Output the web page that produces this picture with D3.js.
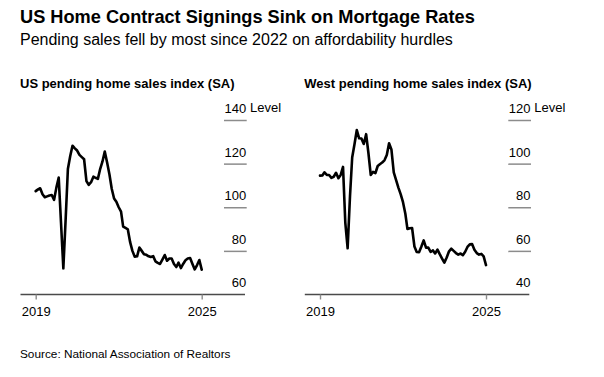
<!DOCTYPE html>
<html>
<head>
<meta charset="utf-8">
<script src="https://cdn.jsdelivr.net/npm/d3@7"></script>
<style>
  html, body { margin: 0; padding: 0; background: #fff; }
  svg { display: block; font-family: "Liberation Sans", Arial, Helvetica, sans-serif; }
</style>
</head>
<body>
<svg id="chart" width="604" height="377"></svg>
<script>
// ---- Data (monthly, Jan 2019 – Jan 2025) ----
const startMonth = "2019-01";
const usValues = [
  107.4, 108.2, 108.7, 106.0, 104.6, 105.0, 105.4, 105.6, 103.4, 109.0,
  113.6, 93.0, 72.0, 94.9, 117.5, 123.5, 128.2, 127.0, 126.0, 124.0,
  123.0, 122.0, 112.0, 110.3, 111.5, 114.0, 113.5, 113.0, 117.5, 121.0,
  125.5, 120.5, 115.0, 108.5, 104.0, 102.5, 100.0, 98.0, 91.1, 90.5,
  89.9, 84.0, 80.0, 77.3, 77.5, 81.5, 80.0, 78.5, 78.2, 77.5,
  77.2, 77.6, 75.2, 74.5, 74.0, 76.0, 78.1, 75.5, 76.5, 76.5,
  74.0, 72.6, 74.6, 72.1, 74.0, 75.7, 76.5, 76.7, 74.0, 71.5,
  73.5, 75.8, 71.4
];
const westValues = [
  94.5, 94.6, 96.0, 94.8, 94.8, 93.5, 94.0, 95.8, 93.3, 94.8,
  98.5, 73.0, 61.2, 85.0, 102.8, 109.0, 115.4, 111.6, 111.5, 109.0,
  113.5, 105.0, 94.8, 96.2, 95.6, 98.9, 99.7, 100.5, 101.5, 104.0,
  109.3, 106.5, 96.0, 92.5, 89.0, 86.0, 82.3, 77.0, 70.0, 70.4,
  70.5, 62.0, 59.5, 59.4, 62.0, 64.8, 61.5, 61.5, 59.5, 60.2,
  58.8, 60.6, 58.5, 56.5, 54.6, 57.0, 59.8, 61.0, 60.0, 59.0,
  58.3, 58.8, 58.0, 59.6, 61.8, 63.0, 63.1, 60.5, 59.0, 58.3,
  58.6, 57.5, 53.5
];
const usTicks = [60, 80, 100, 120, 140];
const westTicks = [40, 60, 80, 100, 120];
const xTickYears = ["2019", "2025"];
const unitLabel = "Level";

const title = "US Home Contract Signings Sink on Mortgage Rates";
const subtitle = "Pending sales fell by most since 2022 on affordability hurdles";
const panelTitles = ["US pending home sales index (SA)", "West pending home sales index (SA)"];
const source = "Source: National Association of Realtors";

// ---- Build ----
const parseMonth = d3.timeParse("%Y-%m");
const parseYear = d3.timeParse("%Y");
const t0 = parseMonth(startMonth);
const dates = usValues.map((_, i) => d3.timeMonth.offset(t0, i));

const svg = d3.select("#chart");

svg.append("text").attr("x", 20).attr("y", 23)
  .attr("font-size", 18.2).attr("font-weight", "bold").attr("fill", "#000")
  .text(title);
svg.append("text").attr("x", 20).attr("y", 45)
  .attr("font-size", 16).attr("fill", "#000")
  .text(subtitle);
svg.append("text").attr("x", 20).attr("y", 357.5)
  .attr("font-size", 11.8).attr("fill", "#000")
  .text(source);

const panels = [
  { title: panelTitles[0], values: usValues, ticks: usTicks, offset: 0 },
  { title: panelTitles[1], values: westValues, ticks: westTicks, offset: 284.3 }
];

panels.forEach(p => {
  const g = svg.append("g").attr("transform", `translate(${p.offset},0)`);
  const x = d3.scaleTime()
    .domain([parseYear(xTickYears[0]), parseYear(xTickYears[1])])
    .range([35.7, 201.7]);
  const y = d3.scaleLinear()
    .domain([p.ticks[0], p.ticks[p.ticks.length - 1]])
    .range([294.5, 120]);

  g.append("text").attr("x", 20).attr("y", 88)
    .attr("font-size", 13).attr("font-weight", "bold").attr("fill", "#000")
    .text(p.title);

  // y axis: short rules with labels above, right aligned
  const yAxis = d3.axisLeft(y).tickValues(p.ticks).tickSize(22.7).tickFormat(d3.format("d"));
  const ya = g.append("g").attr("transform", "translate(246.7,0)").call(yAxis);
  ya.select(".domain").remove();
  ya.selectAll(".tick line").attr("stroke", "#8c8c8c").attr("stroke-width", 1.5);
  ya.selectAll(".tick text")
    .attr("x", -0.5).attr("dy", -7.6).attr("text-anchor", "end")
    .attr("font-size", 13).attr("font-family", null).attr("fill", "#000");
  ya.selectAll(".tick").filter(d => d === p.ticks[0]).select("line").remove();
  g.append("text").attr("x", 250).attr("y", y(p.ticks[p.ticks.length - 1]) - 7.6)
    .attr("font-size", 13).attr("fill", "#000").text(unitLabel);

  // baseline
  g.append("line").attr("x1", 20.5).attr("x2", 245).attr("y1", 294.5).attr("y2", 294.5)
    .attr("stroke", "#4a4a4a").attr("stroke-width", 1.4);

  // x axis
  const xAxis = d3.axisBottom(x).tickValues(xTickYears.map(parseYear)).tickSize(5).tickFormat(d3.timeFormat("%Y"));
  const xa = g.append("g").attr("transform", "translate(0,294.5)").call(xAxis);
  xa.select(".domain").remove();
  xa.selectAll(".tick line").attr("stroke", "#8c8c8c").attr("stroke-width", 1.4);
  xa.selectAll(".tick text").attr("y", 0).attr("dy", 21.5)
    .attr("font-size", 13).attr("font-family", null).attr("fill", "#000");

  // line
  const line = d3.line().x((d, i) => x(dates[i])).y(d => y(d));
  g.append("path").datum(p.values)
    .attr("fill", "none").attr("stroke", "#000").attr("stroke-width", 2.6)
    .attr("stroke-linejoin", "round").attr("stroke-linecap", "round")
    .attr("d", line);
});
</script>
</body>
</html>
